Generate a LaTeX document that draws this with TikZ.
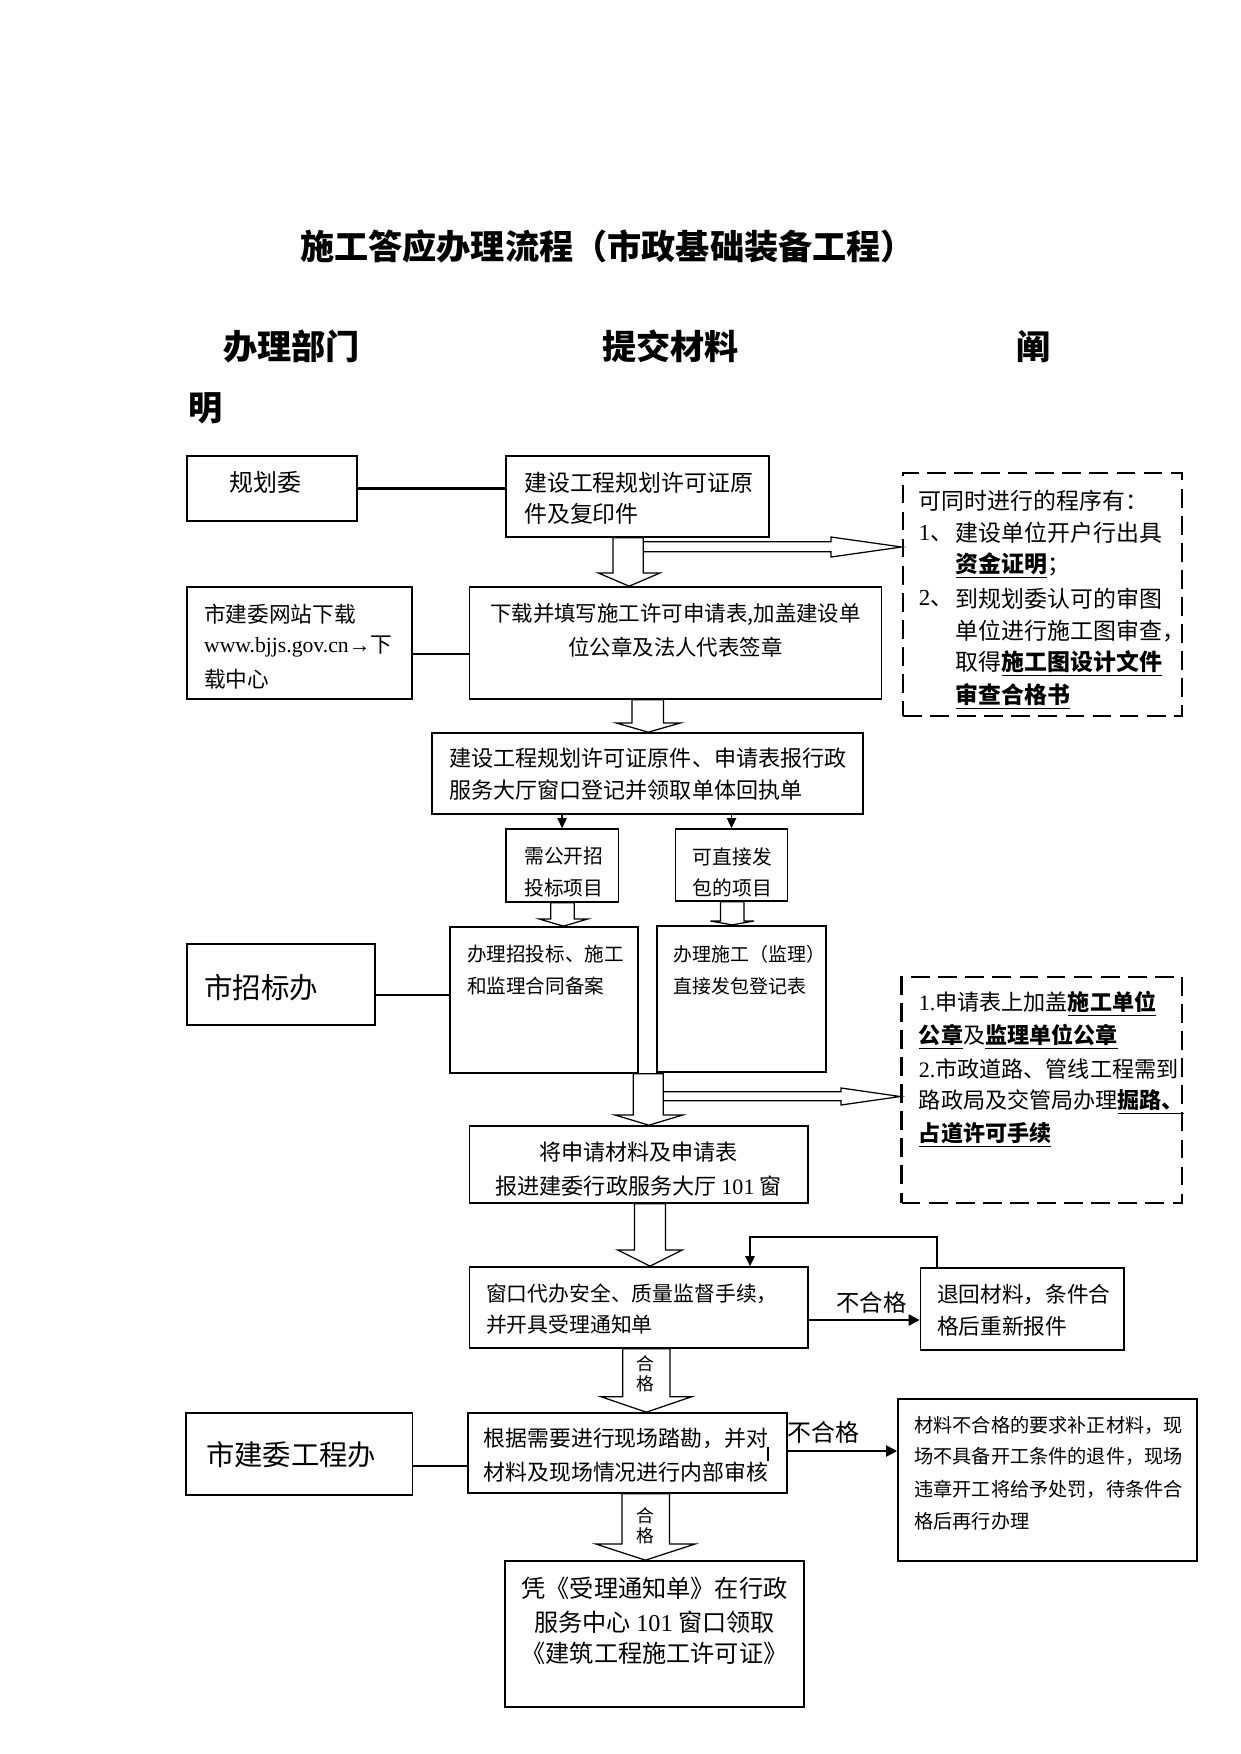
\documentclass[tikz,border=0pt]{standalone}
\usepackage{fontspec}
\setmainfont{Noto Sans CJK SC}
\newfontfamily\lser{Liberation Serif}
\usetikzlibrary{arrows.meta,fit}
\newcommand{\fsz}[1]{\fontsize{#1pt}{#1pt}\selectfont}
\newcommand{\ubf}[1]{\underline{\textbf{#1}}}
\tikzset{
  box/.style={draw, line width=0.8pt, inner sep=0pt},
  dbox/.style={draw, line width=1.3pt, dash pattern=on 9pt off 4pt, inner sep=0pt},
  tx/.style={inner sep=0pt, anchor=west},
  txc/.style={inner sep=0pt, anchor=center},
  conn/.style={line width=1pt},
  thinconn/.style={line width=0.7pt},
  blk/.style={draw, fill=white, line width=0.6pt, line join=miter},
  smalltip/.style={-{Triangle[length=4.8pt,width=4.4pt]}},
  bigtip/.style={-{Triangle[length=5.3pt,width=5.3pt]}},
}
% vertical block arrow: from, to, shaft left, shaft right, head left, head right, head top y
\newcommand{\vblk}[7]{%
  \pgfmathsetmacro{\vbxc}{(#5+#6)/2}%
  \draw[blk] (#3,0 |- #1.south) -- (#3,#7) -- (#5,#7) -- (\vbxc,0 |- #2.north)
    -- (#6,#7) -- (#4,#7) -- (#4,0 |- #1.south) -- cycle;}
% horizontal block arrow: x start, shaft top, shaft bottom, head x, head top, head bottom, target
\newcommand{\hblk}[7]{%
  \pgfmathsetmacro{\hbyc}{(#5+#6)/2}%
  \draw[blk] (#1,#2) -- (#4,#2) -- (#4,#5) -- (#7.west |- 0,\hbyc)
    -- (#4,#6) -- (#4,#3) -- (#1,#3);}
\begin{document}
\begin{tikzpicture}[x=0.48pt,y=-0.48pt]
\useasboundingbox (0,0) rectangle (1241,1754);

% ---------- title and headers ----------
\node[tx, font=\fsz{16.4}\bfseries] (title) at (299.7,246.7) {施工答应办理流程（市政基础装备工程）};
\node[tx, font=\fsz{16.4}\bfseries] (h1) at (223,346.7) {办理部门};
\node[tx, font=\fsz{16.4}\bfseries] (h2) at (602,346.7) {提交材料};
\node[tx, font=\fsz{16.4}\bfseries] (h3) at (1016,346.7) {阐};
\node[tx, font=\fsz{16.4}\bfseries] (h4) at (188,408.3) {明};

% ---------- boxes ----------
\node[box, fit={(187,456) (356.7,521)}] (gh) {};
\node[box, fit={(505.7,456) (768.8,537)}] (b2) {};
\node[dbox, fit={(903,473) (1182,716)}] (db1) {};
\node[box, fit={(187,587) (411.7,699)}] (w1) {};
\node[box, fit={(469.5,587) (881.5,699)}] (b4) {};
\node[box, fit={(431.9,733) (862.8,814)}] (b5) {};
\node[box, fit={(505.7,829) (618.5,902)}] (bz1) {};
\node[box, fit={(675.5,829) (787.6,901)}] (bz2) {};
\node[box, fit={(450,927) (638,1073)}] (bb1) {};
\node[box, fit={(656.7,925.7) (825.8,1072)}] (bb2) {};
\node[box, fit={(187,944) (374.8,1025)}] (zb) {};
\node[dbox, fit={(901.7,977) (1182,1203)}] (db2) {};
\node[box, fit={(469.5,1126) (807.7,1203)}] (b6) {};
\node[box, fit={(469.5,1267) (807.7,1348)}] (b7) {};
\node[box, fit={(920.5,1268) (1124,1350)}] (b8) {};
\node[box, fit={(186,1413) (412.5,1495)}] (gb) {};
\node[box, fit={(468,1413) (786.7,1493)}] (b9) {};
\node[box, fit={(898,1399) (1197,1561)}] (b10) {};
\node[box, fit={(504.9,1561) (804.2,1707)}] (b11) {};

% ---------- texts ----------
\node[tx, font=\fsz{11.5}] (gh-t) at (229,482) {规划委};

\node[tx, font=\fsz{11}] (b2-t1) at (523.8,483) {建设工程规划许可证原};
\node[tx, font=\fsz{11}] (b2-t2) at (523.8,514) {件及复印件};

\node[tx, font=\fsz{11}] (d1-t1) at (918.5,500.6) {可同时进行的程序有：};
\node[tx, font=\fsz{11}] (d1-n1) at (918.5,533.2) {{\lser 1}、};
\node[tx, font=\fsz{11}] (d1-t2) at (955.4,533.2) {建设单位开户行出具};
\node[tx, font=\fsz{11}] (d1-t3) at (955.4,565.9) {\ubf{资金证明}；};
\node[tx, font=\fsz{11}] (d1-n2) at (918.5,598.5) {{\lser 2}、};
\node[tx, font=\fsz{11}] (d1-t4) at (955.4,598.5) {到规划委认可的审图};
\node[tx, font=\fsz{11}] (d1-t5) at (955.4,631.1) {单位进行施工图审查，};
\node[tx, font=\fsz{11}] (d1-t6) at (955.4,663.7) {取得\ubf{施工图设计文件}};
\node[tx, font=\fsz{11}] (d1-t7) at (955.4,696.4) {\ubf{审查合格书}};

\node[tx, font=\fsz{10.4}] (w1-t1) at (203.7,614) {市建委网站下载};
\node[tx, font=\fsz{10.4}] (w1-t2) at (203.7,647) {{\lser www.bjjs.gov.cn→}下};
\node[tx, font=\fsz{10.4}] (w1-t3) at (203.7,679) {载中心};

\node[txc, font=\fsz{10.3}] (b4-t1) at (675.5,614) {下载并填写施工许可申请表,加盖建设单};
\node[txc, font=\fsz{10.3}] (b4-t2) at (675.5,647.5) {位公章及法人代表签章};

\node[tx, font=\fsz{10.6}] (b5-t1) at (448.7,758.5) {建设工程规划许可证原件、申请表报行政};
\node[tx, font=\fsz{10.6}] (b5-t2) at (448.7,790.5) {服务大厅窗口登记并领取单体回执单};

\node[tx, font=\fsz{9.5}] (bz1-t1) at (523.8,856.5) {需公开招};
\node[tx, font=\fsz{9.5}] (bz1-t2) at (523.8,888) {投标项目};
\node[tx, font=\fsz{9.5}] (bz2-t1) at (692.3,856.5) {可直接发};
\node[tx, font=\fsz{9.5}] (bz2-t2) at (692.3,888) {包的项目};

\node[tx, font=\fsz{9.4}] (bb1-t1) at (466.8,954) {办理招投标、施工};
\node[tx, font=\fsz{9.4}] (bb1-t2) at (466.8,986.5) {和监理合同备案};
\node[tx, font=\fsz{9.1}] (bb2-t1) at (673.5,954) {办理施工（监理）};
\node[tx, font=\fsz{9.1}] (bb2-t2) at (673.5,986.5) {直接发包登记表};

\node[tx, font=\fsz{13.7}] (zb-t) at (203.7,988) {市招标办};

\node[tx, font=\fsz{10.6}] (d2-t1) at (918.5,1004) {{\lser 1.}申请表上加盖\ubf{施工单位}};
\node[tx, font=\fsz{10.6}] (d2-t2) at (918.5,1037) {\ubf{公章}及\ubf{监理单位公章}};
\node[tx, font=\fsz{10.6}] (d2-t3) at (918.5,1069.5) {{\lser 2.}市政道路、管线工程需到};
\node[tx, font=\fsz{10.6}] (d2-t4) at (918.5,1102) {路政局及交管局办理\ubf{掘路、}};
\node[tx, font=\fsz{10.6}] (d2-t5) at (918.5,1135) {\ubf{占道许可手续}};

\node[txc, font=\fsz{10.6}] (b6-t1) at (638.6,1152) {将申请材料及申请表};
\node[txc, font=\fsz{10.6}] (b6-t2) at (638.6,1186) {报进建委行政服务大厅 {\lser 101} 窗};

\node[tx, font=\fsz{10}] (b7-t1) at (485.6,1294) {窗口代办安全、质量监督手续，};
\node[tx, font=\fsz{10}] (b7-t2) at (485.6,1325) {并开具受理通知单};

\node[tx, font=\fsz{10.4}] (b8-t1) at (936.6,1295) {退回材料，条件合};
\node[tx, font=\fsz{10.4}] (b8-t2) at (936.6,1326) {格后重新报件};

\node[tx, font=\fsz{11.2}] (ng1) at (836,1303) {不合格};

\node[tx, font=\fsz{10.5}] (b9-t1) at (483.3,1438) {根据需要进行现场踏勘，并对};
\node[tx, font=\fsz{10.5}] (b9-t2) at (483.3,1472) {材料及现场情况进行内部审核};

\node[tx, font=\fsz{13.6}] (gb-t) at (205.6,1455) {市建委工程办};

\node[tx, font=\fsz{11.5}] (ng2) at (787.5,1432) {不合格};

\node[tx, font=\fsz{9.2}] (b10-t1) at (914,1425) {材料不合格的要求补正材料，现};
\node[tx, font=\fsz{9.2}] (b10-t2) at (914,1456) {场不具备开工条件的退件，现场};
\node[tx, font=\fsz{9.2}] (b10-t3) at (914,1489) {违章开工将给予处罚，待条件合};
\node[tx, font=\fsz{9.2}] (b10-t4) at (914,1521) {格后再行办理};

\node[txc, font=\fsz{11.6}] (b11-t1) at (654.5,1588) {凭《受理通知单》在行政};
\node[txc, font=\fsz{11.6}] (b11-t2) at (654.5,1622) {服务中心 {\lser 101} 窗口领取};
\node[txc, font=\fsz{11.6}] (b11-t3) at (654.5,1653) {《建筑工程施工许可证》};

% ---------- plain connectors ----------
\draw[conn] (gh.east) -- (gh.east -| b2.west);
\draw[thinconn] (w1.east |- 0,654) -- (b4.west |- 0,654);
\draw[thinconn] (zb.east |- 0,995) -- (bb1.west |- 0,995);
\draw[thinconn] (gb.east |- 0,1466) -- (b9.west |- 0,1466);
\draw[thinconn, smalltip] (bz1.north |- b5.south) -- (bz1.north);
\draw[thinconn, smalltip] (bz2.north |- b5.south) -- (bz2.north);
\draw[conn, bigtip] (b7.east |- 0,1320) -- (b8.west |- 0,1320);
\draw[conn, smalltip] (936.7,0 |- b8.north) -- (936.7,1237) -- (750,1237) -- (750,0 |- b7.north);
\draw[conn, bigtip] (b9.east |- 0,1451) -- (b10.west |- 0,1451);
\draw[line width=0.5pt] (768,1447) -- (768,1461);

% ---------- block arrows ----------
\hblk{643.3}{541.7}{551.7}{831}{537}{557}{db1}
\vblk{b2}{b4}{613}{643.3}{598.3}{660}{573}
\vblk{b4}{b5}{631.9}{663.4}{616.4}{680.2}{723}
\vblk{bz1}{bb1}{550.7}{574.2}{539.3}{587.6}{919}
\vblk{bz2}{bb2}{720.5}{744}{710.4}{754}{921}
\hblk{663.3}{1091.7}{1100.7}{841}{1088}{1105}{db2}
\vblk{bb1}{b6}{633.3}{663.3}{615}{682.7}{1115}
\vblk{b6}{b7}{634.6}{665.4}{617.8}{682.2}{1250}
\vblk{b7}{b9}{622.7}{670}{601}{691.7}{1396.7}
\vblk{b9}{b11}{622}{669.4}{595.8}{695}{1544}

\node[txc, font=\fontsize{8.5pt}{9.6pt}\selectfont, align=center] (q1) at (645,1373.5) {合\\格};
\node[txc, font=\fontsize{8.5pt}{9.8pt}\selectfont, align=center] (q2) at (645,1526) {合\\格};
\end{tikzpicture}
\end{document}
